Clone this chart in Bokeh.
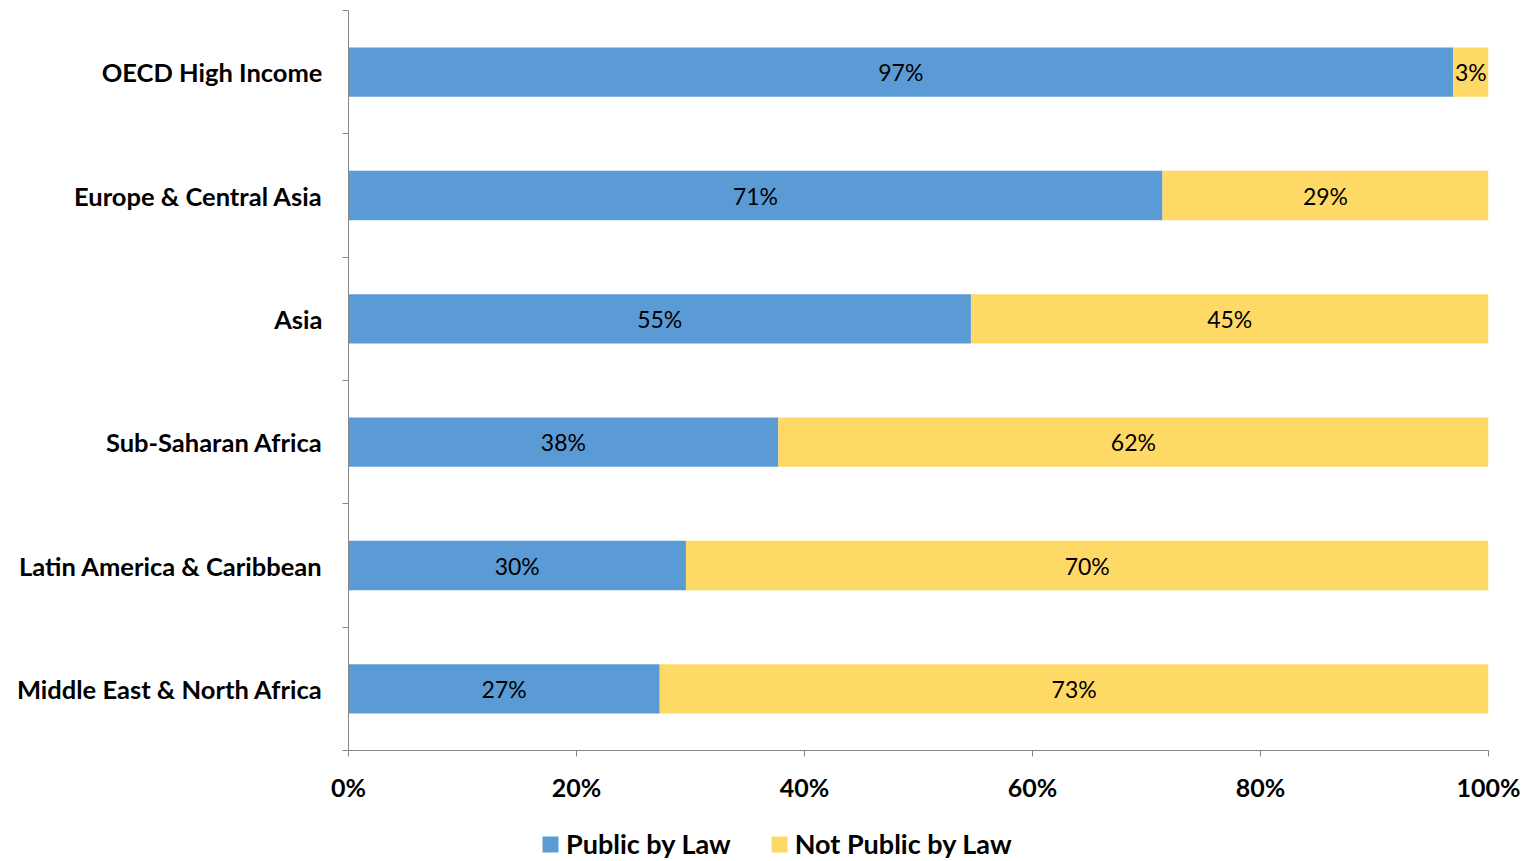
from bokeh.plotting import figure
from bokeh.models import Range1d, FixedTicker, ColumnDataSource, Legend, LegendItem
from bokeh.layouts import column
from bokeh.core.properties import value
from bokeh.embed import file_html
from bokeh.resources import INLINE

categories = ["OECD High Income", "Europe & Central Asia", "Asia",
              "Sub-Saharan Africa", "Latin America & Caribbean", "Middle East & North Africa"]
public = [96.9, 71.4, 54.6, 37.7, 29.6, 27.3]
not_public = [3.1, 28.6, 45.4, 62.3, 70.4, 72.7]
series_names = ["Public by Law", "Not Public by Law"]
x_ticks = [0, 20, 40, 60, 80, 100]

FONT = "Lato"
BLUE = "#5B9BD5"
YELLOW = "#FFD966"
AXIS = "#868686"

n = len(categories)
ypos = [n - 0.5 - i for i in range(n)]
pub_right = public
np_left = public
np_right = [a + b for a, b in zip(public, not_public)]

src = ColumnDataSource(dict(
    y=ypos, cat=categories,
    pub_left=[0] * n, pub_right=pub_right,
    np_left=np_left, np_right=np_right,
    pub_mid=[r / 2 for r in pub_right],
    np_mid=[(l + r) / 2 for l, r in zip(np_left, np_right)],
    pub_lab=[f"{round(v)}%" for v in public],
    np_lab=[f"{round(v)}%" for v in not_public],
))

W = 1520
p = figure(width=W, height=810, output_backend="svg", toolbar_location=None,
           x_range=Range1d(0, 100), y_range=Range1d(0, n),
           min_border_left=348, min_border_right=32, min_border_top=10, min_border_bottom=60)
p.outline_line_color = None
p.xgrid.visible = False
p.ygrid.visible = False
p.background_fill_color = "white"
p.border_fill_color = "white"

r1 = p.hbar(y="y", left="pub_left", right="pub_right", height=0.4, source=src,
            fill_color=BLUE, line_color=None)
r2 = p.hbar(y="y", left="np_left", right="np_right", height=0.4, source=src,
            fill_color=YELLOW, line_color=None)

p.text(x="pub_mid", y="y", text="pub_lab", source=src, text_align="center",
       text_baseline="middle", text_font=value(FONT), text_font_size="23px", text_color="black")
p.text(x="np_mid", y="y", text="np_lab", source=src, text_align="center",
       text_baseline="middle", text_font=value(FONT), text_font_size="23px", text_color="black")

# x axis
xa = p.xaxis[0]
xa.ticker = FixedTicker(ticks=x_ticks)
xa.major_label_overrides = {t: f"{t}%" for t in x_ticks}
xa.axis_line_color = AXIS
xa.major_tick_line_color = AXIS
xa.major_tick_out = 6
xa.major_tick_in = 0
xa.minor_tick_line_color = None
xa.major_label_text_font = FONT
xa.major_label_text_font_style = "bold"
xa.major_label_text_font_size = "25px"
xa.major_label_text_color = "black"
xa.major_label_standoff = 15

# y axis: labels at centers, ticks at boundaries (as minor ticks)
ya = p.yaxis[0]
ya.ticker = FixedTicker(ticks=ypos, minor_ticks=list(range(n + 1)))
ya.major_label_overrides = {y: c for y, c in zip(ypos, categories)}
ya.axis_line_color = AXIS
ya.major_tick_line_color = None
ya.major_tick_out = 0
ya.major_tick_in = 0
ya.minor_tick_line_color = AXIS
ya.minor_tick_out = 6
ya.minor_tick_in = 0
ya.major_label_text_font = FONT
ya.major_label_text_font_style = "bold"
ya.major_label_text_font_size = "25.5px"
ya.major_label_text_color = "black"
ya.major_label_standoff = 20

# legend strip (its frame is aligned with the main frame by the column layout)
p2 = figure(width=W, height=50, output_backend="svg", toolbar_location=None,
            x_range=Range1d(0, 100), y_range=Range1d(100, 101),
            min_border_left=348, min_border_right=32, min_border_top=0, min_border_bottom=0)
p2.axis.visible = False
p2.grid.visible = False
p2.outline_line_color = None
p2.background_fill_color = "white"
p2.border_fill_color = "white"
l1 = p2.hbar(y="y", left="pub_left", right="pub_right", height=0.4, source=src,
             fill_color=BLUE, line_color=None)
l2 = p2.hbar(y="y", left="np_left", right="np_right", height=0.4, source=src,
             fill_color=YELLOW, line_color=None)

legend = Legend(items=[LegendItem(label=series_names[0], renderers=[l1]),
                       LegendItem(label=series_names[1], renderers=[l2])],
                orientation="horizontal", location=(192, 0),
                glyph_width=20, glyph_height=20, label_standoff=6, spacing=38,
                padding=0, margin=0, border_line_color=None, background_fill_alpha=0,
                label_text_font=FONT, label_text_font_style="bold", label_text_font_size="27px",
                label_text_color="black")
p2.add_layout(legend, "center")

open("out.html", "w").write(file_html(column(p, p2, spacing=0), INLINE))
